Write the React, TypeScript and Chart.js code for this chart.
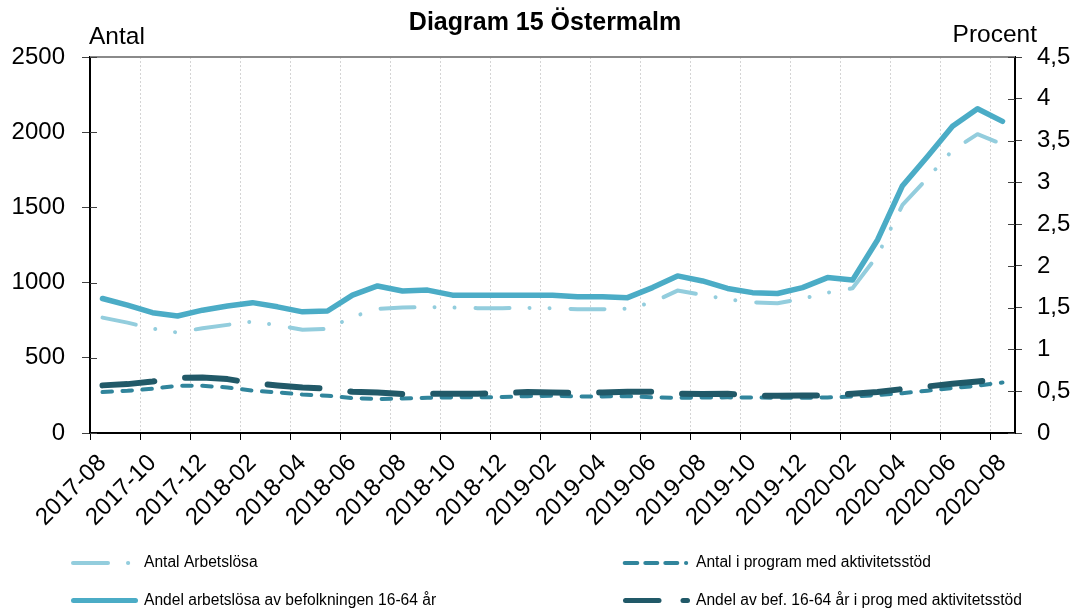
import React, { useEffect, useRef } from 'react';
import { Chart, registerables } from 'chart.js';

Chart.register(...registerables);

const FONT = '"Liberation Sans", Arial, Helvetica, sans-serif';

const chartTitle = 'Diagram 15 Östermalm';
const leftAxisTitle = 'Antal';
const rightAxisTitle = 'Procent';

const months = [
  '2017-08', '2017-09', '2017-10', '2017-11', '2017-12',
  '2018-01', '2018-02', '2018-03', '2018-04', '2018-05', '2018-06', '2018-07',
  '2018-08', '2018-09', '2018-10', '2018-11', '2018-12',
  '2019-01', '2019-02', '2019-03', '2019-04', '2019-05', '2019-06', '2019-07',
  '2019-08', '2019-09', '2019-10', '2019-11', '2019-12',
  '2020-01', '2020-02', '2020-03', '2020-04', '2020-05', '2020-06', '2020-07',
  '2020-08',
];

const seriesNames = [
  'Antal Arbetslösa',
  'Antal i program med aktivitetsstöd',
  'Andel arbetslösa av befolkningen 16-64 år',
  'Andel av bef. 16-64 år i prog med aktivitetsstöd',
];

// Antal (left axis)
const antalArbetslosa = [
  767, 734, 694, 668, 697, 719, 741, 717, 686, 692, 772, 825,
  834, 838, 834, 830, 830, 832, 830, 823, 823, 827, 869, 947,
  918, 889, 869, 863, 893, 933, 962, 1180, 1517, 1695, 1880, 1987,
  1920,
];

const antalProgram = [
  272, 281, 294, 314, 314, 303, 281, 270, 256, 248, 232, 226,
  229, 234, 237, 237, 239, 245, 248, 243, 243, 245, 237, 234,
  236, 237, 236, 234, 234, 236, 243, 252, 265, 281, 299, 314,
  336,
];

// Procent (right axis)
const andelArbetslosa = [
  1.61, 1.53, 1.44, 1.40, 1.47, 1.52, 1.56, 1.51, 1.45, 1.46, 1.65, 1.76,
  1.70, 1.71, 1.65, 1.65, 1.65, 1.65, 1.65, 1.63, 1.63, 1.62, 1.74, 1.88,
  1.82, 1.73, 1.68, 1.67, 1.74, 1.86, 1.83, 2.31, 2.96, 3.31, 3.67, 3.88,
  3.73,
];

const andelProgram = [
  0.57, 0.585, 0.617, 0.661, 0.665, 0.645, 0.597, 0.569, 0.545, 0.533, 0.493, 0.485,
  0.466, 0.47, 0.47, 0.47, 0.478, 0.49, 0.485, 0.478, 0.485, 0.493, 0.493, 0.47,
  0.466, 0.47, 0.446, 0.446, 0.45, 0.45, 0.47, 0.49, 0.526, 0.557, 0.589, 0.617,
  0.64,
];

const COLORS = {
  light: '#93CDDD',
  solid: '#4BACC6',
  teal: '#31859C',
  dark: '#215968',
};

const decorPlugin = {
  id: 'decor',
  afterDraw(chart: any) {
    const { ctx, chartArea: ca, scales } = chart;
    ctx.save();

    // top frame line
    ctx.strokeStyle = '#8a8a8a';
    ctx.lineWidth = 2;
    ctx.beginPath();
    ctx.moveTo(ca.left, ca.top);
    ctx.lineTo(ca.right, ca.top);
    ctx.stroke();

    // inner tick marks on y axes
    ctx.strokeStyle = '#404040';
    ctx.lineWidth = 1;
    const yl = scales.y;
    yl.ticks.forEach((t: any) => {
      const py = Math.round(yl.getPixelForValue(t.value)) + 0.5;
      ctx.beginPath();
      ctx.moveTo(ca.left, py);
      ctx.lineTo(ca.left + 7, py);
      ctx.stroke();
    });
    const yr = scales.y1;
    yr.ticks.forEach((t: any) => {
      const py = Math.round(yr.getPixelForValue(t.value)) + 0.5;
      ctx.beginPath();
      ctx.moveTo(ca.right - 7, py);
      ctx.lineTo(ca.right, py);
      ctx.stroke();
    });

    // titles
    ctx.fillStyle = '#000';
    ctx.textBaseline = 'alphabetic';
    ctx.font = `bold 25px ${FONT}`;
    ctx.textAlign = 'center';
    ctx.fillText(chartTitle, 545, 30);
    ctx.font = `24.5px ${FONT}`;
    ctx.textAlign = 'left';
    ctx.fillText(leftAxisTitle, 89, 44);
    ctx.textAlign = 'right';
    ctx.fillText(rightAxisTitle, 1037, 42);

    // legend
    const seg = (x1: number, x2: number, y: number, w: number, color: string) => {
      ctx.strokeStyle = color;
      ctx.lineWidth = w;
      ctx.lineCap = 'round';
      ctx.beginPath();
      ctx.moveTo(x1, y);
      ctx.lineTo(x2, y);
      ctx.stroke();
    };
    const r1 = 563;
    const r2 = 600.5;
    // Antal Arbetslösa
    seg(73, 108, r1, 4, COLORS.light);
    seg(128, 128.2, r1, 4, COLORS.light);
    // Andel arbetslösa
    seg(73.5, 135.5, r2, 5, COLORS.solid);
    // Antal i program
    seg(624.7, 637.3, r1, 4, COLORS.teal);
    seg(645.3, 657.3, r1, 4, COLORS.teal);
    seg(665.3, 677.3, r1, 4, COLORS.teal);
    seg(686, 686.2, r1, 4, COLORS.teal);
    // Andel av bef.
    seg(625.5, 659, r2, 5, COLORS.dark);
    seg(683, 687.5, r2, 5, COLORS.dark);

    ctx.fillStyle = '#000';
    ctx.font = `15.6px ${FONT}`;
    ctx.textAlign = 'left';
    ctx.textBaseline = 'middle';
    ctx.fillText(seriesNames[0], 144, r1);
    ctx.fillText(seriesNames[2], 144, r2);
    ctx.fillText(seriesNames[1], 696, r1);
    ctx.fillText(seriesNames[3], 696, r2);

    ctx.restore();
  },
};

export default function App() {
  const canvasRef = useRef<HTMLCanvasElement | null>(null);

  useEffect(() => {
    document.body.style.margin = '0';
    const canvas = canvasRef.current;
    if (!canvas) return;

    const chart = new Chart(canvas, {
      type: 'line',
      data: {
        labels: months,
        datasets: [
          {
            label: seriesNames[0],
            data: antalArbetslosa,
            yAxisID: 'y',
            borderColor: COLORS.light,
            borderWidth: 4,
            borderDash: [34, 20, 0.01, 20, 0.01, 21],
            borderCapStyle: 'round',
            borderJoinStyle: 'round',
            pointRadius: 0,
            tension: 0,
            fill: false,
            order: 3,
          },
          {
            label: seriesNames[1],
            data: antalProgram,
            yAxisID: 'y',
            borderColor: COLORS.teal,
            borderWidth: 4,
            borderDash: [9.5, 10.5],
            borderCapStyle: 'round',
            borderJoinStyle: 'round',
            pointRadius: 0,
            tension: 0,
            fill: false,
            order: 4,
          },
          {
            label: seriesNames[2],
            data: andelArbetslosa,
            yAxisID: 'y1',
            borderColor: COLORS.solid,
            borderWidth: 5.5,
            borderCapStyle: 'round',
            borderJoinStyle: 'round',
            pointRadius: 0,
            tension: 0,
            fill: false,
            order: 1,
          },
          {
            label: seriesNames[3],
            data: andelProgram,
            yAxisID: 'y1',
            borderColor: COLORS.dark,
            borderWidth: 6,
            borderDash: [52, 31],
            borderCapStyle: 'round',
            borderJoinStyle: 'round',
            pointRadius: 0,
            tension: 0,
            fill: false,
            order: 2,
          },
        ],
      },
      options: {
        responsive: false,
        animation: false,
        devicePixelRatio: 1,
        layout: { padding: { top: 57, left: 0, right: 0, bottom: 0 } },
        plugins: {
          legend: { display: false },
          title: { display: false },
          tooltip: { enabled: false },
        },
        scales: {
          x: {
            type: 'category',
            offset: true,
            afterFit: (scale: any) => {
              scale.height = 181;
            },
            grid: {
              offset: true,
              drawOnChartArea: true,
              lineWidth: 1,
              color: (c: any) =>
                c.index % 2 === 0 && c.index > 0 && c.index < months.length ? '#d4d4d4' : 'rgba(0,0,0,0)',
              tickColor: (c: any) =>
                c.index % 2 === 0 && c.index < months.length ? '#000' : 'rgba(0,0,0,0)',
              tickLength: 7,
              tickWidth: 1,
            },
            border: { display: true, color: '#000', width: 2, dash: [2, 2] },
            ticks: {
              autoSkip: false,
              maxRotation: 45,
              minRotation: 45,
              padding: 9,
              color: '#000',
              font: { family: FONT, size: 24 },
              callback: (_v: any, i: number) => (i % 2 === 0 ? months[i] : ''),
            },
          },
          y: {
            type: 'linear',
            position: 'left',
            min: 0,
            max: 2500,
            afterFit: (scale: any) => {
              scale.width = 90;
            },
            grid: {
              drawOnChartArea: false,
              tickLength: 8,
              tickColor: '#404040',
              tickWidth: 1,
            },
            border: { display: true, color: '#000', width: 2 },
            ticks: {
              stepSize: 500,
              padding: 17,
              color: '#000',
              font: { family: FONT, size: 24 },
              callback: (v: any) => String(v),
            },
          },
          y1: {
            type: 'linear',
            position: 'right',
            min: 0,
            max: 4.5,
            afterFit: (scale: any) => {
              scale.width = 61;
            },
            grid: {
              drawOnChartArea: false,
              tickLength: 7,
              tickColor: '#404040',
              tickWidth: 1,
            },
            border: { display: true, color: '#000', width: 2 },
            ticks: {
              stepSize: 0.5,
              padding: 15,
              color: '#000',
              font: { family: FONT, size: 24 },
              callback: (v: any) => String(Math.round(Number(v) * 10) / 10).replace('.', ','),
            },
          },
        },
      },
      plugins: [decorPlugin],
    } as any);

    return () => {
      chart.destroy();
    };
  }, []);

  return (
    <canvas
      ref={canvasRef}
      width={1076}
      height={614}
      style={{ display: 'block', width: 1076, height: 614 }}
    />
  );
}
